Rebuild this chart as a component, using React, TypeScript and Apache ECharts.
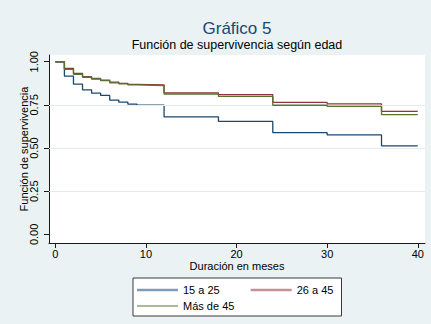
import { useEffect, useRef } from "react";
import * as echarts from "echarts";

// Kaplan-Meier survival estimates by age group, months since start
const months = [0, 1, 2, 3, 4, 5, 6, 7, 8, 9, 12, 18, 24, 30, 36, 40];
const surv15a25 = [1, 0.917, 0.87, 0.837, 0.818, 0.805, 0.778, 0.766, 0.755, 0.749, 0.681, 0.654, 0.589, 0.576, 0.513, 0.513];
const surv26a45 = [1, 0.962, 0.933, 0.914, 0.903, 0.894, 0.882, 0.875, 0.869, 0.866, 0.82, 0.809, 0.764, 0.756, 0.712, 0.712];
const survMas45 = [1, 0.956, 0.927, 0.91, 0.9, 0.89, 0.878, 0.872, 0.866, 0.862, 0.813, 0.799, 0.748, 0.741, 0.694, 0.694];

const groupNames = ["15 a 25", "26 a 45", "Más de 45"];
const lineColors = ["#1A476F", "#90353B", "#55752F"];
const legendColors = ["#7F9BB8", "#C49296", "#55752F"];
const legendWidths = [2.5, 2.5, 1];

const xTicks = [0, 10, 20, 30, 40];
const yTicks = [0, 0.25, 0.5, 0.75, 1];
const yGridLines = [0.25, 0.5, 0.75];

const FONT = "'Liberation Sans', Arial, Helvetica, sans-serif";
const AXIS_COLOR = "#1a1a1a";

export default function App() {
  const ref = useRef<HTMLDivElement>(null);

  useEffect(() => {
    document.body.style.margin = "0";
    if (!ref.current) return;
    const chart = echarts.init(ref.current, undefined, { renderer: "svg" });

    const seriesValues = [surv15a25, surv26a45, survMas45];
    const curves = seriesValues.map((vals, i) => ({
      type: "line",
      name: groupNames[i],
      step: "end",
      symbol: "none",
      showSymbol: false,
      z: 3 + i,
      lineStyle: { color: lineColors[i], width: 1.3 },
      itemStyle: { color: lineColors[i] },
      emphasis: { disabled: true },
      data: months.map((t, k) => [t, vals[k]]),
    }));

    const legendItem = (i: number) => ({
      name: groupNames[i],
      icon: "rect",
      itemStyle: { color: legendColors[i] },
    });

    const legendBase = {
      left: 137,
      padding: 0,
      itemWidth: 41,
      itemGap: 31,
      selectedMode: false,
      textStyle: { fontFamily: FONT, fontSize: 11, color: "#000" },
    };

    chart.setOption({
      animation: false,
      backgroundColor: "#EAF2F3",
      textStyle: { fontFamily: FONT },
      title: [
        {
          text: "Gráfico 5",
          left: 237,
          top: 20,
          padding: 0,
          textAlign: "center",
          textStyle: { fontFamily: FONT, fontSize: 17, fontWeight: "normal", color: "#1A476F" },
        },
        {
          text: "Función de supervivencia según edad",
          left: 237,
          top: 38,
          padding: 0,
          textAlign: "center",
          textStyle: { fontFamily: FONT, fontSize: 12.5, fontWeight: "normal", color: "#000" },
        },
      ],
      grid: {
        left: 49,
        right: 6,
        top: 55,
        bottom: 81,
        show: true,
        backgroundColor: "#ffffff",
        borderWidth: 0,
      },
      xAxis: {
        type: "value",
        min: -0.7,
        max: 40.8,
        name: "Duración en meses",
        nameLocation: "middle",
        nameGap: 17,
        nameMoveOverlap: false,
        nameTextStyle: { fontFamily: FONT, fontSize: 11, color: "#000" },
        axisLine: { show: true, onZero: false, lineStyle: { color: AXIS_COLOR, width: 1 } },
        axisTick: { show: true, length: 5, customValues: xTicks, lineStyle: { color: AXIS_COLOR } },
        axisLabel: { customValues: xTicks, margin: 5, fontFamily: FONT, fontSize: 11, color: "#000" },
        splitLine: { show: false },
      },
      yAxis: {
        type: "value",
        min: -0.05,
        max: 1.039,
        name: "Función de supervivencia",
        nameLocation: "middle",
        nameRotate: 90,
        nameGap: 20,
        nameMoveOverlap: false,
        nameTextStyle: { fontFamily: FONT, fontSize: 11, color: "#000" },
        axisLine: { show: true, onZero: false, lineStyle: { color: AXIS_COLOR, width: 1 } },
        axisTick: { show: true, length: 5, customValues: yTicks, lineStyle: { color: AXIS_COLOR } },
        axisLabel: {
          customValues: yTicks,
          rotate: 90,
          margin: 10,
          fontFamily: FONT,
          fontSize: 11,
          color: "#000",
          formatter: (v: number) => v.toFixed(2),
        },
        splitLine: { show: false },
      },
      legend: [
        {
          ...legendBase,
          top: 284.5,
          itemHeight: legendWidths[0],
          data: [legendItem(0), legendItem(1)],
        },
        {
          ...legendBase,
          top: 300.5,
          itemHeight: legendWidths[2],
          data: [legendItem(2)],
        },
      ],
      graphic: [
        {
          type: "rect",
          left: 132.5,
          top: 277.5,
          shape: { width: 208.5, height: 38 },
          style: { fill: "#ffffff", stroke: "#3a3a3a", lineWidth: 1 },
          silent: true,
        },
      ],
      series: [
        {
          type: "line",
          name: "grid",
          data: [],
          silent: true,
          z: 1,
          markLine: {
            silent: true,
            symbol: "none",
            label: { show: false },
            emphasis: { disabled: true },
            lineStyle: { color: "#E2EBED", width: 1, type: "solid" },
            data: yGridLines.map((v) => ({ yAxis: v })),
          },
        },
        ...curves,
      ],
    });

    return () => chart.dispose();
  }, []);

  return <div ref={ref} style={{ width: 431, height: 324 }} />;
}
